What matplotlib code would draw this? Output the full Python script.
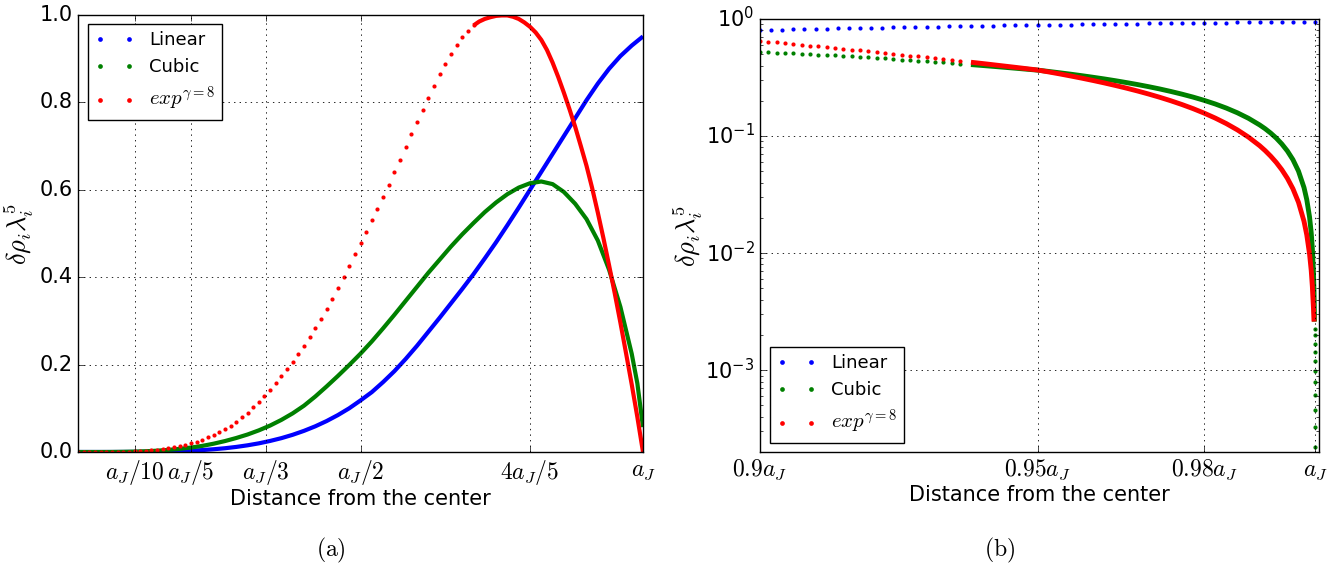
import numpy as np
import matplotlib
matplotlib.use('Agg')
import matplotlib.pyplot as plt
from matplotlib.lines import Line2D
from matplotlib.ticker import FuncFormatter, LogLocator, NullFormatter

plt.style.use('classic')
plt.rcParams['mathtext.fontset'] = 'cm'
plt.rcParams['font.family'] = ['DejaVu Sans']
plt.rcParams['font.size'] = 15
plt.rcParams['legend.fontsize'] = 13

# ---- panel (a): whole star ----
x_red_a = np.round(np.arange(101) * 0.01, 2)
exp_a = [0.0, 0.0, 0.0, 0.0, 0.0001, 0.0001, 0.0002, 0.0004, 0.0006, 0.0010,
         0.0015, 0.0021, 0.0029, 0.0039, 0.0052, 0.0068, 0.0090, 0.0114, 0.0142, 0.0170,
         0.0202, 0.0240, 0.0285, 0.0335, 0.0395, 0.0460, 0.0530, 0.0605, 0.0690, 0.0790,
         0.0900, 0.1020, 0.1150, 0.1285, 0.1430, 0.1580, 0.1735, 0.1900, 0.2070, 0.2250,
         0.2435, 0.263, 0.283, 0.304, 0.327, 0.351, 0.376, 0.401, 0.426, 0.452,
         0.478, 0.504, 0.530, 0.556, 0.583, 0.611, 0.640, 0.669, 0.698, 0.727,
         0.755, 0.783, 0.811, 0.838, 0.864, 0.889, 0.911, 0.931, 0.949, 0.964,
         0.976, 0.985, 0.991, 0.995, 0.998, 0.999, 0.999, 0.996, 0.991, 0.983,
         0.973, 0.960, 0.943, 0.920, 0.891, 0.858, 0.822, 0.784, 0.744, 0.700,
         0.655, 0.604, 0.548, 0.489, 0.427, 0.363, 0.296, 0.226, 0.155, 0.080,
         0.0]

x_lin_a = np.round(np.arange(51) * 0.02, 2)
linear_a = [0.0, 0.0, 0.0, 0.0, 0.0001, 0.0002, 0.0004, 0.0007, 0.0012, 0.0020,
            0.0030, 0.0044, 0.0063, 0.0086, 0.0116, 0.0153, 0.0198, 0.0253, 0.0317, 0.0394,
            0.0484, 0.0588, 0.0708, 0.0845, 0.1000, 0.1180, 0.1370, 0.160, 0.185, 0.213,
            0.243, 0.275, 0.307, 0.340, 0.373, 0.407, 0.443, 0.480, 0.519, 0.559,
            0.600, 0.641, 0.682, 0.723, 0.764, 0.805, 0.843, 0.877, 0.906, 0.930,
            0.951]

x_cub_a = np.concatenate([x_lin_a[:50], [0.99, 1.0]])
cubic_a = [0.0, 0.0, 0.0, 0.0001, 0.0004, 0.0009, 0.0017, 0.0030, 0.0048, 0.0072,
           0.0102, 0.0140, 0.0190, 0.0250, 0.0320, 0.0400, 0.0495, 0.0605, 0.0735, 0.0885,
           0.106, 0.127, 0.150, 0.174, 0.199, 0.225, 0.253, 0.283, 0.314, 0.346,
           0.378, 0.410, 0.440, 0.470, 0.498, 0.524, 0.549, 0.571, 0.590, 0.605,
           0.615, 0.619, 0.613, 0.595, 0.568, 0.533, 0.484, 0.417, 0.332, 0.225,
           0.157, 0.057]

# ---- panel (b): outer 10 per cent, log scale ----
x_lin_b = np.round(0.9 + np.arange(51) * 0.002, 3)
linear_b = [0.8050, 0.8088, 0.8126, 0.8164, 0.8201, 0.8238, 0.8274, 0.8310, 0.8346, 0.8381,
            0.8416, 0.8450, 0.8484, 0.8518, 0.8551, 0.8584, 0.8616, 0.8648, 0.8680, 0.8711,
            0.8742, 0.8772, 0.8802, 0.8832, 0.8861, 0.8890, 0.8918, 0.8946, 0.8974, 0.9001,
            0.9028, 0.9054, 0.9080, 0.9106, 0.9131, 0.9156, 0.9180, 0.9204, 0.9228, 0.9251,
            0.9274, 0.9296, 0.9318, 0.9340, 0.9361, 0.9382, 0.9402, 0.9422, 0.9442, 0.9461,
            0.9480]

# sparse start (single dots)
x_start_b = np.round(0.9 + np.arange(25) * 0.0015, 4)
exp_start_b = [0.6486, 0.6394, 0.6300, 0.6207, 0.6114, 0.6022, 0.5929, 0.5837, 0.5746, 0.5657,
               0.5567, 0.5478, 0.5390, 0.5302, 0.5215, 0.5128, 0.5042, 0.4956, 0.4872, 0.4787,
               0.4705, 0.4622, 0.4540, 0.4459, 0.4378]
cubic_start_b = [0.5248, 0.5210, 0.5171, 0.5131, 0.5091, 0.5050, 0.5008, 0.4966, 0.4923, 0.4878,
                 0.4833, 0.4788, 0.4742, 0.4695, 0.4648, 0.4600, 0.4552, 0.4503, 0.4453, 0.4403,
                 0.4353, 0.4302, 0.4251, 0.4199, 0.4148]

# dense part towards the surface
x_dense_b = [0.938, 0.940, 0.942, 0.944, 0.946, 0.948, 0.950, 0.952, 0.954, 0.956,
             0.958, 0.960, 0.962, 0.964, 0.966, 0.968, 0.970, 0.972, 0.974, 0.976,
             0.978, 0.980, 0.982, 0.984, 0.986, 0.988, 0.990, 0.991, 0.992, 0.993,
             0.994, 0.995, 0.996, 0.997, 0.998, 0.9985, 0.999, 0.9993, 0.9995, 0.9997,
             0.9998]
exp_dense_b = [0.4272, 0.4169, 0.4066, 0.3963, 0.3864, 0.3765, 0.3667, 0.3531, 0.3395, 0.3258,
               0.3121, 0.2983, 0.2845, 0.2706, 0.2567, 0.2427, 0.2286, 0.2145, 0.2003, 0.1860,
               0.1716, 0.1571, 0.1425, 0.1278, 0.1129, 0.0979, 0.0828, 0.0751, 0.0673, 0.0595,
               0.0516, 0.0436, 0.0355, 0.0272, 0.0187, 0.0143, 0.0098, 0.0071, 0.0052, 0.0034,
               0.0026]
x_cub_dense_b = x_dense_b + [0.99984, 0.99987, 0.99989]
cubic_dense_b = [0.4078, 0.4009, 0.3939, 0.3868, 0.3798, 0.3726, 0.3656, 0.3565, 0.3471, 0.3376,
                 0.3278, 0.3178, 0.3077, 0.2972, 0.2864, 0.2755, 0.2642, 0.2526, 0.2405, 0.2281,
                 0.2153, 0.2019, 0.1880, 0.1734, 0.1580, 0.1418, 0.1245, 0.1155, 0.1060, 0.0961,
                 0.0856, 0.0746, 0.0629, 0.0502, 0.0363, 0.0286, 0.0203, 0.0149, 0.0110, 0.0069,
                 0.0047, 0.0038, 0.0031, 0.0026]
x_tail_b = [0.99990, 0.99991, 0.99992, 0.99993, 0.99994, 0.99995, 0.99996, 0.99997, 0.99998,
            0.99999, 0.999995]
cubic_tail_b = [0.00223, 0.00199, 0.00168, 0.00143, 0.00120, 0.00098, 0.00079, 0.00061,
                0.00046, 0.00033, 0.00022]

labels = ['Linear', 'Cubic', r'$exp^{\gamma=8}$']
colors = ['b', 'g', 'r']
ms = 3.0
lw = 3.0

fig = plt.figure(figsize=(13.43, 5.69), dpi=100, facecolor='white')
ax1 = fig.add_axes([78 / 1343, 117 / 569, 565 / 1343, 437 / 569])
ax2 = fig.add_axes([760 / 1343, 117 / 569, 559 / 1343, 433 / 569])

# (a)
ax1.plot(x_lin_a, linear_a, '-', color='b', lw=lw, solid_capstyle='butt')
ax1.plot(x_cub_a, cubic_a, '-', color='g', lw=lw, solid_capstyle='butt')
split = 70
ax1.plot(x_red_a[:split + 1], exp_a[:split + 1], 'o', color='r', ms=ms, mew=0)
ax1.plot(x_red_a[split:], exp_a[split:], '-', color='r', lw=lw, solid_capstyle='butt')
ax1.set_xlim(0, 1.0)
ax1.set_ylim(0, 1.0)
ax1.set_xticks([0.1, 0.2, 1 / 3, 0.5, 0.8, 1.0])
ax1.set_xticklabels([r'$a_J/10$', r'$a_J/5$', r'$a_J/3$', r'$a_J/2$', r'$4a_J/5$', r'$a_J$'])
ax1.set_yticks([0, 0.2, 0.4, 0.6, 0.8, 1.0])
ax1.grid(True, color='k', linestyle=':', linewidth=0.6)
ax1.set_xlabel('Distance from the center', labelpad=2)
ax1.set_ylabel(r'$\delta\rho_i\lambda_i^5$', fontsize=19, labelpad=2)

# (b)
ax2.plot(x_lin_b, linear_b, 'o', color='b', ms=ms, mew=0)
ax2.plot(x_start_b, cubic_start_b, 'o', color='g', ms=ms, mew=0)
ax2.plot(x_cub_dense_b, cubic_dense_b, '-', color='g', lw=lw + 0.5, solid_capstyle='butt')
ax2.plot(x_tail_b, cubic_tail_b, 'o', color='g', ms=ms, mew=0)
ax2.plot(x_start_b, exp_start_b, 'o', color='r', ms=ms, mew=0)
ax2.plot(x_dense_b, exp_dense_b, '-', color='r', lw=lw + 0.5, solid_capstyle='butt')
ax2.set_yscale('log')
ax2.set_xlim(0.9, 1.0007)
ax2.set_ylim(2e-4, 1.0)
ax2.set_xticks([0.9, 0.95, 0.98, 1.0])
ax2.set_xticklabels([r'$0.9a_J$', r'$0.95a_J$', r'$0.98a_J$', r'$a_J$'])
ax2.yaxis.set_major_locator(LogLocator(base=10, numticks=10))
ax2.yaxis.set_major_formatter(FuncFormatter(lambda v, p: r'$\mathregular{10^{%d}}$' % round(np.log10(v))))
ax2.yaxis.set_minor_formatter(NullFormatter())
ax2.grid(True, which='major', color='k', linestyle=':', linewidth=0.6)
ax2.set_xlabel('Distance from the center', labelpad=2)
ax2.set_ylabel(r'$\delta\rho_i\lambda_i^5$', fontsize=19, labelpad=0)

for ax in (ax1, ax2):
    ax.tick_params(direction='in', top=True, right=True, labelsize=15)
    ax.tick_params(axis='x', labelsize=17)

handles = [Line2D([], [], ls='none', marker='o', ms=ms + 0.4, mew=0, color=c) for c in colors]
for ax, loc, anchor in ((ax1, 'upper left', (0.017, 0.98)), (ax2, 'lower left', (0.017, 0.02))):
    leg = ax.legend(handles, labels, loc=loc, numpoints=2, fancybox=False,
                    bbox_to_anchor=anchor, borderaxespad=0, handlelength=2.2, labelspacing=0.5)
    leg.get_texts()[2].set_fontsize(15)

fig.text(331 / 1343, 1 - 550 / 569, r'$\mathrm{(a)}$', ha='center', va='center', fontsize=17)
fig.text(1000 / 1343, 1 - 550 / 569, r'$\mathrm{(b)}$', ha='center', va='center', fontsize=17)

fig.savefig('out.png', dpi=100, facecolor='white')
